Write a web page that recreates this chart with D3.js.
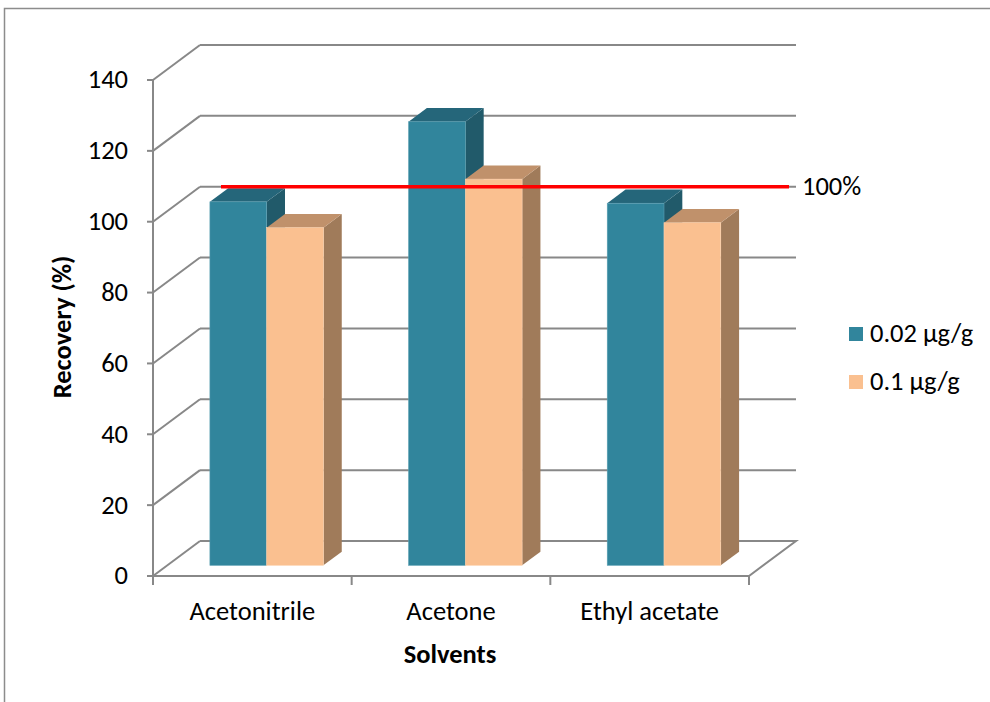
<!DOCTYPE html>
<html>
<head>
<meta charset="utf-8">
<script src="https://cdnjs.cloudflare.com/ajax/libs/d3/7.8.5/d3.min.js"></script>
<style>
  html, body { margin: 0; padding: 0; background: #fff; }
  svg { display: block; font-family: Carlito, Lato, "Open Sans", sans-serif; }
</style>
</head>
<body>
<svg id="chart" width="990" height="702"></svg>
<script>
// Recovery of residues by extraction solvent, two spiking levels
const categories = ["Acetonitrile", "Acetone", "Ethyl acetate"];
const seriesNames = ["0.02 µg/g", "0.1 µg/g"];
const low = [102.6, 125.2, 102.2];   // 0.02 µg/g
const high = [95.3, 109.0, 96.7];    // 0.1 µg/g
const yTicks = [0, 20, 40, 60, 80, 100, 120, 140];
const refValue = 100;
const refLabel = "100%";

const svg = d3.select("#chart");
const fs = 26.5;

// Plot geometry: front plane and depth offset of the 3D box
const x0 = 153, x1 = 749, yBase = 576, yTop = 80;
const depthX = 47, depthY = -35;

const x = d3.scaleBand().domain(categories).range([x0, x1]).paddingInner(0).paddingOuter(0);
const xs = d3.scaleBand().domain(seriesNames).range([0, x.bandwidth()]).paddingInner(0).paddingOuter(0.75);
const y = d3.scaleLinear().domain([0, 140]).range([yBase, yTop]);
const depth = d3.scaleLinear().domain([0, 1]).range([0, 1]);

const P = (px, py, d) => [px + depth(d) * depthX, py + depth(d) * depthY];
const pts = arr => arr.map(p => p.join(",")).join(" ");

const gridColor = "#888888";

// Outer frame
svg.append("rect").attr("x", 4.5).attr("y", 8.5).attr("width", 1000).attr("height", 720)
  .attr("fill", "none").attr("stroke", "#8c8c8c").attr("stroke-width", 1.5);

const grid = svg.append("g").attr("stroke", gridColor).attr("stroke-width", 2).attr("fill", "none");

// Back wall lines and side wall diagonals
yTicks.forEach(t => {
  const yf = y(t);
  const back0 = P(x0, yf, 1), back1 = P(x1, yf, 1);
  if (t > 0) {
    grid.append("line").attr("x1", back0[0]).attr("y1", back0[1]).attr("x2", back1[0]).attr("y2", back1[1]);
  }
  grid.append("line").attr("x1", x0).attr("y1", yf).attr("x2", back0[0]).attr("y2", back0[1]);
  grid.append("line").attr("x1", x0 - 6).attr("y1", yf).attr("x2", x0).attr("y2", yf);
});

// Floor outline
grid.append("polyline").attr("points", pts([P(x0, yBase, 1), P(x1, yBase, 1), P(x1, yBase, 0), [x0, yBase]]));
// Vertical value axis
grid.append("line").attr("x1", x0).attr("y1", yTop).attr("x2", x0).attr("y2", yBase);
// Category ticks
[x0, ...categories.map(c => x(c) + x.bandwidth())].forEach(px => {
  grid.append("line").attr("x1", px).attr("y1", yBase).attr("x2", px).attr("y2", yBase + 9);
});

// Bars
const palette = [
  { front: "#31859C", top: "#25667A", side: "#215A6A", edge: "#5a9fb2" },
  { front: "#FAC090", top: "#C0916B", side: "#A07B5A", edge: "#fcd2ae" }
];
const dFront = 0.305, dBack = 0.695;
const bars = svg.append("g");
categories.forEach((c, i) => {
  [low[i], high[i]].forEach((v, s) => {
    const col = palette[s];
    const bx0 = x(c) + xs(seriesNames[s]);
    const bx1 = bx0 + xs.bandwidth();
    const yb = y(0), yv = y(v);
    const g = bars.append("g");
    // side face
    g.append("polygon").attr("fill", col.side)
      .attr("points", pts([P(bx1, yb, dFront), P(bx1, yb, dBack), P(bx1, yv, dBack), P(bx1, yv, dFront)]));
    // top face
    g.append("polygon").attr("fill", col.top)
      .attr("points", pts([P(bx0, yv, dFront), P(bx1, yv, dFront), P(bx1, yv, dBack), P(bx0, yv, dBack)]));
    // front face
    const f0 = P(bx0, yv, dFront), f1 = P(bx1, yb, dFront);
    g.append("rect").attr("fill", col.front)
      .attr("stroke", col.edge).attr("stroke-width", 0.6)
      .attr("x", f0[0]).attr("y", f0[1]).attr("width", f1[0] - f0[0]).attr("height", f1[1] - f0[1]);
  });
});

// 100% reference line on the back wall
const rl0 = P(x0 + 21, y(refValue), 1), rl1 = P(x1 - 7, y(refValue), 1);
svg.append("line").attr("x1", rl0[0]).attr("y1", rl0[1]).attr("x2", rl1[0]).attr("y2", rl1[1])
  .attr("stroke", "#FF0000").attr("stroke-width", 3.5);
svg.append("text").attr("x", rl1[0] + 13).attr("y", rl0[1]).attr("dy", "0.32em")
  .attr("font-size", fs).attr("fill", "#000").text(refLabel);

// Tick labels
svg.append("g").selectAll("text").data(yTicks).join("text")
  .attr("x", 128).attr("y", d => y(d)).attr("dy", "0.32em")
  .attr("text-anchor", "end").attr("font-size", fs).attr("fill", "#000").text(d => d);

svg.append("g").selectAll("text").data(categories).join("text")
  .attr("x", d => x(d) + x.bandwidth() / 2).attr("y", 612).attr("dy", "0.32em")
  .attr("text-anchor", "middle").attr("font-size", fs).attr("fill", "#000").text(d => d);

// Axis titles
svg.append("text").attr("x", 450).attr("y", 655).attr("dy", "0.32em")
  .attr("text-anchor", "middle").attr("font-size", fs).attr("font-weight", "bold").text("Solvents");
svg.append("text").attr("transform", "translate(63,327) rotate(-90)").attr("dy", "0.32em")
  .attr("text-anchor", "middle").attr("font-size", fs).attr("font-weight", "bold").text("Recovery (%)");

// Legend
const legend = svg.append("g");
seriesNames.forEach((name, s) => {
  const ly = 334 + s * 48;
  legend.append("rect").attr("x", 849).attr("y", ly - 7).attr("width", 14).attr("height", 14)
    .attr("fill", palette[s].front);
  legend.append("text").attr("x", 870).attr("y", ly).attr("dy", "0.32em")
    .attr("font-size", fs).attr("fill", "#000").text(name);
});
</script>
</body>
</html>
